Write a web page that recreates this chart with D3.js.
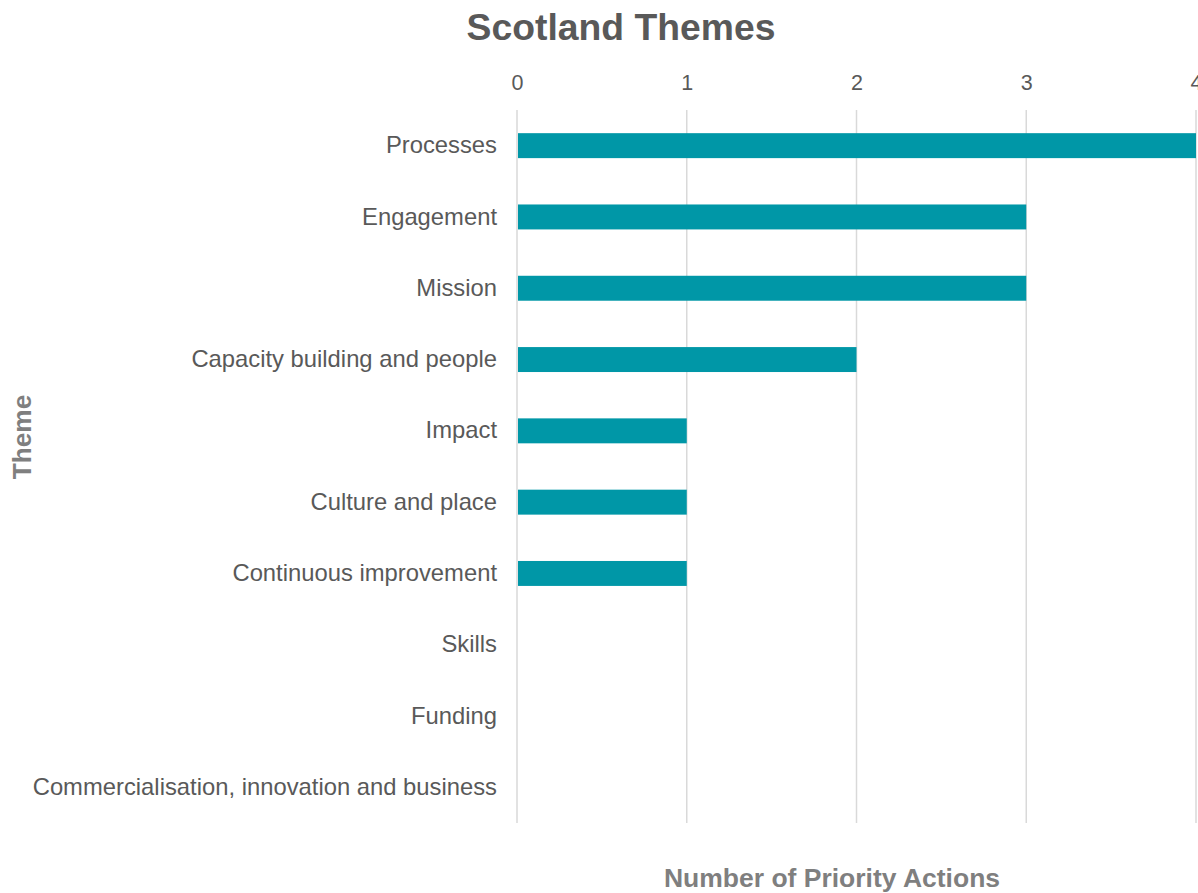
<!DOCTYPE html>
<html><head><meta charset="utf-8">
<script src="https://cdn.jsdelivr.net/npm/d3@7"></script>
<style>body{margin:0;background:#fff;font-family:"Liberation Sans",Arial,sans-serif;}</style>
</head><body><svg id="chart" width="1198" height="893"></svg>
<script>
const categories = ["Processes","Engagement","Mission","Capacity building and people","Impact","Culture and place","Continuous improvement","Skills","Funding","Commercialisation, innovation and business"];
const values = [4,3,3,2,1,1,1,0,0,0];
const tickValues = [0,1,2,3,4];
const title = "Scotland Themes";
const xTitle = "Number of Priority Actions";
const yTitle = "Theme";

const svg = d3.select("#chart");
const m = {left:517, right:1196, top:110, bottom:823};
const x = d3.scaleLinear().domain([0,4]).range([m.left, m.right]);
const y = d3.scaleBand().domain(categories).range([m.top, m.bottom]).paddingInner(0.65).paddingOuter(0.325);

// gridlines
svg.append("g").selectAll("line").data(tickValues).join("line")
  .attr("x1", d=>x(d)).attr("x2", d=>x(d)).attr("y1", m.top).attr("y2", m.bottom)
  .attr("stroke","#d9d9d9").attr("stroke-width",1.5);

// top axis
const ax = svg.append("g").attr("transform",`translate(0,${m.top-20})`)
  .call(d3.axisTop(x).tickValues(tickValues).tickFormat(d3.format("d")).tickSize(0).tickPadding(0));
ax.select(".domain").remove();
ax.selectAll("text").attr("font-size",21.5).attr("fill","#595959").attr("font-family","Liberation Sans, Arial, sans-serif");

// left axis
const ay = svg.append("g").attr("transform",`translate(${m.left-20},0)`)
  .call(d3.axisLeft(y).tickSize(0).tickPadding(0));
ay.select(".domain").remove();
ay.selectAll("text").attr("font-size",23.8).attr("fill","#595959").attr("font-family","Liberation Sans, Arial, sans-serif");

// bars
svg.append("g").selectAll("rect").data(categories).join("rect")
  .attr("x", x(0)+1).attr("y", d=>y(d))
  .attr("width", (d,i)=>Math.max(0, x(values[i])-x(0)-1)).attr("height", y.bandwidth())
  .attr("fill","#0097A7");

svg.append("text").attr("x",621).attr("y",40).attr("text-anchor","middle")
  .attr("font-size",37.3).attr("font-weight","bold").attr("fill","#595959").text(title);

svg.append("text").attr("x",832).attr("y",887).attr("text-anchor","middle")
  .attr("font-size",26.5).attr("font-weight","bold").attr("fill","#7f7f7f").text(xTitle);

svg.append("text").attr("transform","translate(31,437) rotate(-90)").attr("text-anchor","middle")
  .attr("font-size",26.2).attr("font-weight","bold").attr("fill","#7f7f7f").text(yTitle);
</script></body></html>
